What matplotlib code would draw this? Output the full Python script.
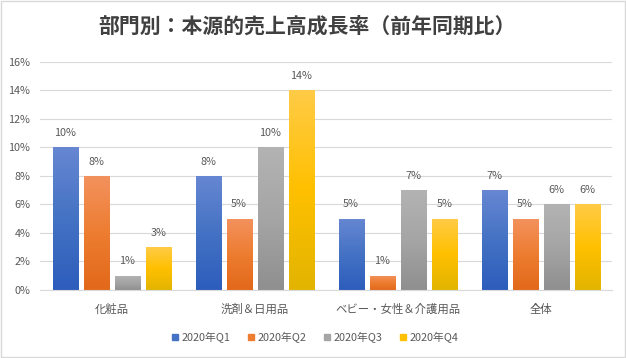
import matplotlib
matplotlib.use("Agg")
import matplotlib.pyplot as plt
import numpy as np
from matplotlib.colors import LinearSegmentedColormap
from matplotlib.patches import Rectangle

plt.rcParams['font.family'] = ['Noto Sans CJK JP', 'DejaVu Sans']

title = "部門別：本源的売上高成長率（前年同期比）"
categories = ["化粧品", "洗剤＆日用品", "ベビー・女性＆介護用品", "全体"]
series_names = ["2020年Q1", "2020年Q2", "2020年Q3", "2020年Q4"]
q1 = [10, 8, 5, 7]
q2 = [8, 5, 1, 5]
q3 = [1, 10, 7, 6]
q4 = [3, 14, 5, 6]
yticks = [0, 2, 4, 6, 8, 10, 12, 14, 16]

base_colors = ["#4472C4", "#ED7D31", "#A5A5A5", "#FFC000"]
top_colors = ["#6787D2", "#F3925F", "#B3B3B3", "#FFCB47"]
bot_colors = ["#2D5DBC", "#E2681A", "#8F8F8F", "#E2B400"]
text_color = "#595959"

fig = plt.figure(figsize=(6.26, 3.58), dpi=100)
fig.patch.set_facecolor("white")
ax = fig.add_axes([0.064, 0.19, 0.914, 0.637])

n = len(categories)
x = np.arange(n)
width = 0.175
step = 0.217
data = [q1, q2, q3, q4]

grad = np.linspace(0, 1, 256).reshape(-1, 1)
for i, vals in enumerate(data):
    cmap = LinearSegmentedColormap.from_list(
        f"g{i}", [bot_colors[i], base_colors[i], top_colors[i]])
    offs = (i - 1.5) * step
    bars = ax.bar(x + offs, vals, width, color=base_colors[i],
                  label=series_names[i], zorder=2)
    for b, v in zip(bars, vals):
        x0, y0 = b.get_x(), b.get_y()
        w, h = b.get_width(), b.get_height()
        im = ax.imshow(grad, cmap=cmap, origin="lower", aspect="auto",
                       extent=[x0, x0 + w, y0, y0 + h], zorder=2.5)
        im.set_clip_path(b)
        ax.text(x0 + w / 2, v + 0.65, f"{v}%", ha="center", va="bottom",
                fontsize=7.8, color=text_color, zorder=3)

ax.set_xlim(-0.5, n - 0.5)
ax.set_ylim(0, 16)
ax.set_yticks(yticks)
ax.set_yticklabels([f"{t}%" for t in yticks], fontsize=7.8, color=text_color)
ax.set_xticks(x)
ax.set_xticklabels(categories, fontsize=8.2, color=text_color)
ax.tick_params(axis="both", length=0)
ax.tick_params(axis="x", pad=10)
ax.tick_params(axis="y", pad=7)
ax.grid(axis="y", color="#D9D9D9", linewidth=0.8, zorder=0)
ax.set_axisbelow(True)
for s in ["top", "right", "left"]:
    ax.spines[s].set_visible(False)
ax.spines["bottom"].set_color("#D9D9D9")
ax.spines["bottom"].set_linewidth(0.8)

handles = [Rectangle((0, 0), 1, 1, color=c) for c in base_colors]
leg = fig.legend(handles, series_names, loc="center", bbox_to_anchor=(0.503, 0.058),
                 ncol=4, frameon=False, fontsize=7.8, handlelength=0.6,
                 handleheight=0.6, handletextpad=0.3, columnspacing=1.6)
for t in leg.get_texts():
    t.set_color(text_color)

fig.text(0.49, 0.926, title, ha="center", va="center", fontsize=15,
         fontweight="bold", color="#404040")

border = Rectangle((0.001, 0.002), 0.997, 0.995, transform=fig.transFigure,
                   fill=False, edgecolor="#D9D9D9", linewidth=1)
fig.patches.append(border)

fig.savefig("out.png", dpi=100, facecolor="white")
